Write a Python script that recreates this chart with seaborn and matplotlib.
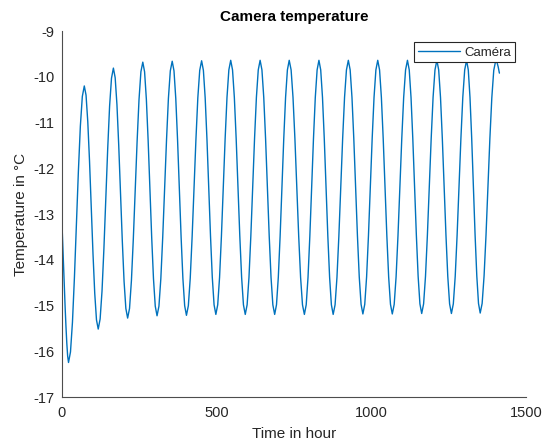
import matplotlib
matplotlib.use("Agg")
import matplotlib.pyplot as plt
import seaborn as sns
import pandas as pd

# Time (hours) and camera temperature (°C)
time_h = [0, 2.75, 5.5, 8.25, 11, 13.75, 16.5, 19.25, 22,
          28.38, 34.75, 41.13, 47.5, 53.88, 60.25, 66.63, 73,
          78.63, 84.25, 89.88, 95.5, 101.13, 106.75, 112.38, 118,
          124.13, 130.25, 136.38, 142.5, 148.63, 154.75, 160.88, 167,
          172.75, 178.5, 184.25, 190, 195.75, 201.5, 207.25, 213,
          219.13, 225.25, 231.38, 237.5, 243.63, 249.75, 255.88, 262,
          267.75, 273.5, 279.25, 285, 290.75, 296.5, 302.25, 308,
          314.13, 320.25, 326.38, 332.5, 338.63, 344.75, 350.88, 357,
          362.75, 368.5, 374.25, 380, 385.75, 391.5, 397.25, 403,
          409.13, 415.25, 421.38, 427.5, 433.63, 439.75, 445.88, 452,
          457.75, 463.5, 469.25, 475, 480.75, 486.5, 492.25, 498,
          504, 510, 516, 522, 528, 534, 540, 546,
          551.88, 557.75, 563.63, 569.5, 575.38, 581.25, 587.13, 593,
          599, 605, 611, 617, 623, 629, 635, 641,
          646.88, 652.75, 658.63, 664.5, 670.38, 676.25, 682.13, 688,
          693.88, 699.75, 705.63, 711.5, 717.38, 723.25, 729.13, 735,
          741.13, 747.25, 753.38, 759.5, 765.63, 771.75, 777.88, 784,
          789.88, 795.75, 801.63, 807.5, 813.38, 819.25, 825.13, 831,
          836.75, 842.5, 848.25, 854, 859.75, 865.5, 871.25, 877,
          883.13, 889.25, 895.38, 901.5, 907.63, 913.75, 919.88, 926,
          931.88, 937.75, 943.63, 949.5, 955.38, 961.25, 967.13, 973,
          979, 985, 991, 997, 1003, 1009, 1015, 1021,
          1026.88, 1032.75, 1038.63, 1044.5, 1050.38, 1056.25, 1062.13, 1068,
          1074.13, 1080.25, 1086.38, 1092.5, 1098.63, 1104.75, 1110.88, 1117,
          1122.75, 1128.5, 1134.25, 1140, 1145.75, 1151.5, 1157.25, 1163,
          1169.13, 1175.25, 1181.38, 1187.5, 1193.63, 1199.75, 1205.88, 1212,
          1217.88, 1223.75, 1229.63, 1235.5, 1241.38, 1247.25, 1253.13, 1259,
          1265.13, 1271.25, 1277.38, 1283.5, 1289.63, 1295.75, 1301.88, 1308,
          1313.5, 1319, 1324.5, 1330, 1335.5, 1341, 1346.5, 1352,
          1358.25, 1364.5, 1370.75, 1377, 1383.25, 1389.5, 1395.75, 1402,
          1406, 1410, 1414]

temp_c = [-13.05, -13.55, -14.05, -14.55, -15.02, -15.45, -15.82, -16.10, -16.24,
          -16.01, -15.36, -14.38, -13.22, -12.07, -11.08, -10.43, -10.20,
          -10.40, -10.98, -11.84, -12.86, -13.87, -14.73, -15.31, -15.51,
          -15.29, -14.68, -13.75, -12.66, -11.57, -10.64, -10.03, -9.81,
          -10.02, -10.61, -11.50, -12.54, -13.58, -14.47, -15.06, -15.27,
          -15.06, -14.45, -13.54, -12.48, -11.41, -10.50, -9.89, -9.68,
          -9.89, -10.49, -11.39, -12.45, -13.51, -14.41, -15.01, -15.22,
          -15.01, -14.41, -13.50, -12.44, -11.38, -10.47, -9.87, -9.66,
          -9.87, -10.47, -11.37, -12.44, -13.50, -14.40, -15.00, -15.21,
          -15.00, -14.40, -13.49, -12.43, -11.37, -10.46, -9.86, -9.65,
          -9.86, -10.46, -11.36, -12.42, -13.48, -14.38, -14.98, -15.19,
          -14.98, -14.38, -13.48, -12.42, -11.35, -10.45, -9.85, -9.64,
          -9.85, -10.45, -11.35, -12.42, -13.48, -14.38, -14.98, -15.19,
          -14.98, -14.38, -13.48, -12.42, -11.35, -10.45, -9.85, -9.64,
          -9.85, -10.45, -11.35, -12.42, -13.48, -14.38, -14.98, -15.19,
          -14.98, -14.38, -13.48, -12.42, -11.35, -10.45, -9.85, -9.64,
          -9.85, -10.45, -11.35, -12.42, -13.48, -14.38, -14.98, -15.19,
          -14.98, -14.38, -13.48, -12.42, -11.35, -10.45, -9.85, -9.64,
          -9.85, -10.45, -11.35, -12.42, -13.48, -14.38, -14.98, -15.19,
          -14.98, -14.38, -13.48, -12.42, -11.35, -10.45, -9.85, -9.64,
          -9.85, -10.45, -11.35, -12.41, -13.47, -14.37, -14.97, -15.18,
          -14.97, -14.37, -13.47, -12.41, -11.35, -10.45, -9.85, -9.64,
          -9.85, -10.45, -11.35, -12.41, -13.47, -14.37, -14.97, -15.18,
          -14.97, -14.37, -13.47, -12.41, -11.35, -10.45, -9.85, -9.64,
          -9.85, -10.45, -11.35, -12.41, -13.46, -14.36, -14.96, -15.17,
          -14.96, -14.36, -13.46, -12.41, -11.35, -10.45, -9.85, -9.64,
          -9.85, -10.45, -11.35, -12.41, -13.46, -14.36, -14.96, -15.17,
          -14.96, -14.36, -13.46, -12.41, -11.35, -10.45, -9.85, -9.64,
          -9.85, -10.45, -11.34, -12.40, -13.46, -14.35, -14.95, -15.16,
          -14.95, -14.35, -13.46, -12.41, -11.35, -10.46, -9.86, -9.65,
          -9.68, -9.78, -9.92]

x_ticks = [0, 500, 1000, 1500]
y_ticks = [-17, -16, -15, -14, -13, -12, -11, -10, -9]
series_name = "Caméra"

df = pd.DataFrame({"Time": time_h, "Temp": temp_c, "series": series_name})

sns.set_style("white")
plt.rcParams["font.family"] = ["Liberation Sans", "DejaVu Sans"]
plt.rcParams["axes.unicode_minus"] = False

txt = "#262626"
spine = "#4d4d4d"

fig = plt.figure(figsize=(5.46, 4.43), dpi=100)
ax = fig.add_axes([0.113, 0.1032, 0.8504, 0.8268])

sns.lineplot(data=df, x="Time", y="Temp", hue="series", palette=["#0072BD"],
             linewidth=1.0, ax=ax, sort=False, estimator=None)

ax.set_xlim(0, 1500)
ax.set_ylim(-17, -9)
ax.set_xticks(x_ticks)
ax.set_yticks(y_ticks)
ax.set_xticklabels([str(v) for v in x_ticks])
ax.set_yticklabels([str(v) for v in y_ticks])

for s in ["top", "right"]:
    ax.spines[s].set_visible(False)
for s in ["left", "bottom"]:
    ax.spines[s].set_color(spine)
    ax.spines[s].set_linewidth(0.8)

ax.tick_params(direction="in", length=4, width=0.8, colors=spine,
               labelcolor=txt, labelsize=10.5)
ax.tick_params(axis="x", pad=6)
ax.tick_params(axis="y", pad=5)

ax.set_xlabel("Time in hour", fontsize=11, color=txt, labelpad=5)
ax.set_ylabel("Temperature in °C", fontsize=11, color=txt, labelpad=4)
ax.set_title("Camera temperature", fontsize=11, fontweight="bold", color="black", pad=7)

leg = ax.legend(loc="upper right", bbox_to_anchor=(0.9432, 0.9045),
                bbox_transform=fig.transFigure, fontsize=9.5, frameon=True,
                fancybox=False, borderpad=0.3, handlelength=3.2,
                handletextpad=0.3, borderaxespad=0)
leg.get_frame().set_edgecolor("#262626")
leg.get_frame().set_linewidth(0.8)
leg.get_frame().set_alpha(1)
for t in leg.get_texts():
    t.set_color(txt)

fig.savefig("out.png", dpi=100)
